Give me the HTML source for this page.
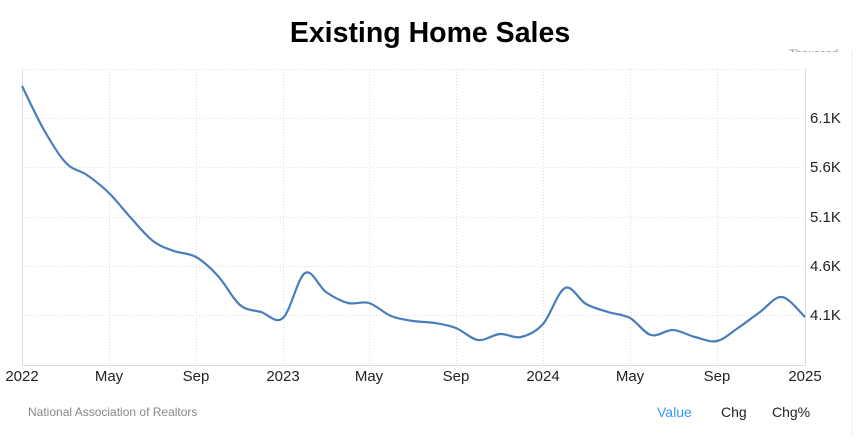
<!DOCTYPE html>
<html><head><style>
body{margin:0;background:#fff;width:861px;height:437px;overflow:hidden;font-family:"Liberation Sans",Arial,sans-serif}
</style></head><body>
<svg width="861" height="437" xmlns="http://www.w3.org/2000/svg" font-family="Liberation Sans, Arial, sans-serif">
<text x="430" y="42" text-anchor="middle" font-size="28.5" font-weight="bold" fill="#000">Existing Home Sales</text>
<text x="838" y="57" text-anchor="end" font-size="11" fill="#999">Thousand</text>
<rect x="0" y="52" width="861" height="17" fill="#fff"/>
<line x1="852" y1="50" x2="852" y2="437" stroke="#eee"/>
<g stroke="#ddd" stroke-dasharray="1,2" stroke-width="1">
<line x1="22" y1="69.5" x2="805" y2="69.5"/>
<line x1="22" y1="118.5" x2="805" y2="118.5"/>
<line x1="22" y1="167.5" x2="805" y2="167.5"/>
<line x1="22" y1="217.5" x2="805" y2="217.5"/>
<line x1="22" y1="266.5" x2="805" y2="266.5"/>
<line x1="22" y1="315.5" x2="805" y2="315.5"/>
<line x1="109.5" y1="69" x2="109.5" y2="365"/>
<line x1="196.5" y1="69" x2="196.5" y2="365"/>
<line x1="283.5" y1="69" x2="283.5" y2="365"/>
<line x1="369.5" y1="69" x2="369.5" y2="365"/>
<line x1="456.5" y1="69" x2="456.5" y2="365"/>
<line x1="543.5" y1="69" x2="543.5" y2="365"/>
<line x1="630.5" y1="69" x2="630.5" y2="365"/>
<line x1="717.5" y1="69" x2="717.5" y2="365"/>
</g>
<line x1="22.5" y1="69" x2="22.5" y2="365" stroke="#ddd"/>
<line x1="805.5" y1="69" x2="805.5" y2="365" stroke="#ddd"/>
<line x1="22" y1="365.5" x2="806" y2="365.5" stroke="#ddd"/>
<path id="p" fill="none" stroke="#4a7ebb" stroke-width="2.2" d=""/>
<g font-size="15" fill="#222">
<text x="810" y="123">6.1K</text><text x="810" y="172">5.6K</text><text x="810" y="222">5.1K</text><text x="810" y="271">4.6K</text><text x="810" y="320">4.1K</text>
</g>
<g font-size="15" fill="#222" text-anchor="middle">
<text x="22" y="381">2022</text><text x="109" y="381">May</text><text x="196" y="381">Sep</text><text x="283" y="381">2023</text><text x="369" y="381">May</text><text x="456" y="381">Sep</text><text x="543" y="381">2024</text><text x="630" y="381">May</text><text x="717" y="381">Sep</text><text x="805" y="381">2025</text>
</g>
<text x="28" y="416" font-size="12" fill="#888">National Association of Realtors</text>
<text x="657" y="417" font-size="14" fill="#3399ff">Value</text>
<text x="721" y="417" font-size="14" fill="#222">Chg</text>
<text x="772" y="417" font-size="14" fill="#222">Chg%</text>
</svg>
<script>
var pts=[[22,86],[44,130],[66,163],[87,175],[109,193],[131,218],[153,241],[174,251],[196,257],[218,276],[240,305],[261,312],[283,318],[305,273],[326,292],[348,303],[369,303],[391,316],[413,321],[435,323],[456,328],[478,340],[500,334],[521,337],[543,324],[565,288],[586,304],[608,312],[630,318],[651,335],[673,330],[695,337],[717,341],[738,328],[760,312],[782,297],[805,317]];
var d="M"+pts[0];
for(var i=0;i<pts.length-1;i++){var p0=pts[i-1]||pts[i],p1=pts[i],p2=pts[i+1],p3=pts[i+2]||p2;
d+=" C"+(p1[0]+(p2[0]-p0[0])/6)+","+(p1[1]+(p2[1]-p0[1])/6)+" "+(p2[0]-(p3[0]-p1[0])/6)+","+(p2[1]-(p3[1]-p1[1])/6)+" "+p2[0]+","+p2[1];}
document.getElementById("p").setAttribute("d",d);
</script>
</body></html>
